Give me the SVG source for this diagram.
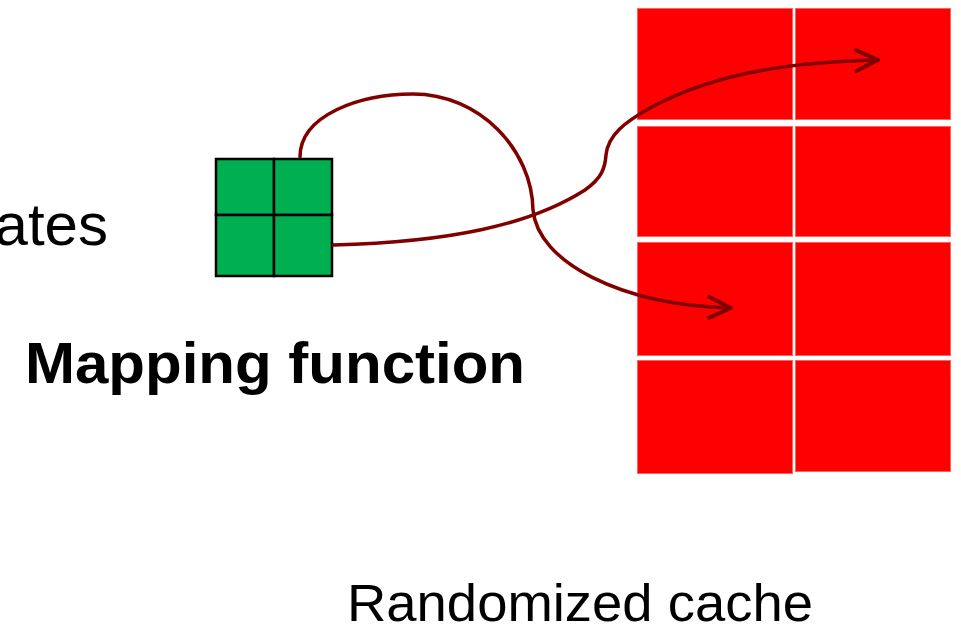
<svg xmlns="http://www.w3.org/2000/svg" width="961" height="628" viewBox="0 0 961 628">
<style>
.cell{fill:#FF0000;stroke:#FF6060;stroke-width:1}
.g{fill:#00B050;stroke:#000;stroke-width:2.5}
.conn{fill:none;stroke:#800000;stroke-width:3.5;stroke-linecap:round}
.t{font-family:"Liberation Sans",Arial,sans-serif;fill:#000}
</style>
<defs>
<marker id="arr" markerUnits="userSpaceOnUse" markerWidth="30" markerHeight="30" viewBox="-22 -12 26 24" refX="0" refY="0" orient="auto">
<path d="M-19,-9 L0,0 L-19,9" fill="none" stroke="#800000" stroke-width="3.5" stroke-linecap="round" stroke-linejoin="round"/>
</marker>
</defs>
<rect width="961" height="628" fill="#fff"/>
<g id="cache">
<rect class="cell" x="637.5" y="8.5" width="155" height="111"/>
<rect class="cell" x="795.5" y="8.5" width="155" height="111"/>
<rect class="cell" x="637.5" y="126.5" width="155" height="110"/>
<rect class="cell" x="795.5" y="126.5" width="155" height="110"/>
<rect class="cell" x="637.5" y="242.5" width="155" height="113"/>
<rect class="cell" x="795.5" y="242.5" width="155" height="113"/>
<rect class="cell" x="637.5" y="360.5" width="155" height="113"/>
<rect class="cell" x="795.5" y="360.5" width="155" height="111"/>
</g>
<g id="mapper">
<rect class="g" x="216" y="159" width="58" height="56"/>
<rect class="g" x="274" y="159" width="58" height="56"/>
<rect class="g" x="216" y="215" width="58" height="61"/>
<rect class="g" x="274" y="215" width="58" height="61"/>
</g>
<g id="connectors">
<path class="conn" marker-end="url(#arr)" d="M300,157 C300,115 360,94 413,94 C480,94 532,150 533,210 C538,262 620,305 731,308"/>
<path class="conn" marker-end="url(#arr)" d="M333,245 C450,242 530,225 585,190 C602,178 605,168 606,155 C608,135 625,122 650,108 C720,70 800,62 878,60"/>
</g>
<g id="labels">
<text class="t" x="108" y="245" font-size="60" text-anchor="end">ates</text>
<text class="t" x="25" y="383" font-size="58" font-weight="bold" textLength="500" lengthAdjust="spacingAndGlyphs">Mapping function</text>
<text class="t" x="347" y="621" font-size="51" textLength="466" lengthAdjust="spacingAndGlyphs">Randomized cache</text>
</g>
</svg>
